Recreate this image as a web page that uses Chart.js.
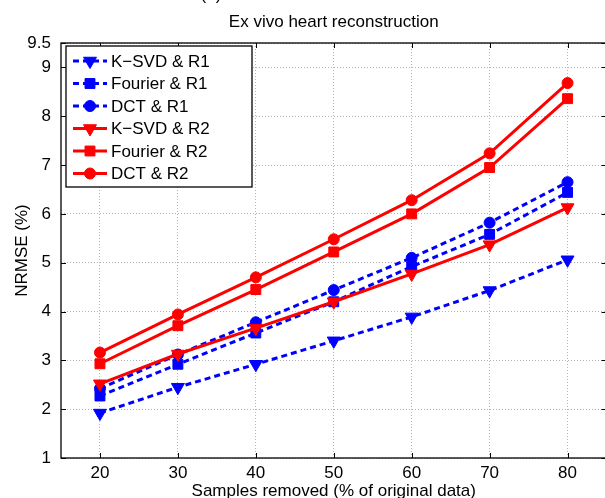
<!DOCTYPE html>
<html>
<head>
<meta charset="utf-8">
<title>Ex vivo heart reconstruction</title>
<script src="https://cdn.jsdelivr.net/npm/chart.js@4.4.1/dist/chart.umd.min.js"></script>
<style>
  html, body { margin: 0; padding: 0; background: #fff; overflow: hidden; }
  #wrap { width: 605px; height: 498px; overflow: hidden; }
</style>
</head>
<body>
<div id="wrap"><canvas id="heartChart" width="615" height="498"></canvas></div>
<script>
// values (NRMSE in %)
const samplesRemoved = [20, 30, 40, 50, 60, 70, 80];
const ksvdR1    = [1.92, 2.45, 2.92, 3.40, 3.89, 4.43, 5.06];
const fourierR1 = [2.27, 2.92, 3.56, 4.20, 4.92, 5.58, 6.44];
const dctR1     = [2.42, 3.12, 3.78, 4.44, 5.10, 5.82, 6.65];
const ksvdR2    = [2.52, 3.13, 3.66, 4.20, 4.77, 5.37, 6.13];
const fourierR2 = [2.93, 3.71, 4.45, 5.22, 6.00, 6.95, 8.36];
const dctR2     = [3.16, 3.94, 4.70, 5.48, 6.28, 7.24, 8.68];

const seriesNames = ["K\u2212SVD & R1", "Fourier & R1", "DCT & R1", "K\u2212SVD & R2", "Fourier & R2", "DCT & R2"];
const xTicks = [20, 30, 40, 50, 60, 70, 80];
const yTicks = [1, 2, 3, 4, 5, 6, 7, 8, 9, 9.5];

const FONT = "'Liberation Sans', Arial, Helvetica, sans-serif";
const BLUE = "#0000ff";
const RED = "#ff0000";

Chart.defaults.font.family = FONT;
Chart.defaults.color = "#000";

function serie(label, values, color, marker, dashed, i) {
  const markerSize = { triangle: 7.5, rect: 7, circle: 5.5 };
  return {
    label,
    data: samplesRemoved.map((x, k) => ({ x, y: values[k] })),
    borderColor: color,
    backgroundColor: color,
    borderWidth: 3,
    borderDash: dashed ? [6, 4] : [],
    pointStyle: marker,
    pointRotation: marker === "triangle" ? 180 : 0,
    pointRadius: markerSize[marker],
    pointBackgroundColor: color,
    pointBorderColor: color,
    pointBorderWidth: 1,
    tension: 0,
    order: 10 - i
  };
}

const datasets = [
  serie(seriesNames[0], ksvdR1, BLUE, "triangle", true, 0),
  serie(seriesNames[1], fourierR1, BLUE, "rect", true, 1),
  serie(seriesNames[2], dctR1, BLUE, "circle", true, 2),
  serie(seriesNames[3], ksvdR2, RED, "triangle", false, 3),
  serie(seriesNames[4], fourierR2, RED, "rect", false, 4),
  serie(seriesNames[5], dctR2, RED, "circle", false, 5)
];

// box round the axes, with inward ticks on all four sides
const marcoEjes = {
  id: "marcoEjes",
  afterDatasetsDraw(chart) {
    const { ctx, chartArea: a, scales: { x, y } } = chart;
    ctx.save();
    ctx.strokeStyle = "#000";
    ctx.lineWidth = 1.3;
    ctx.setLineDash([]);
    ctx.strokeRect(a.left, a.top, a.right - a.left, a.bottom - a.top);
    ctx.lineWidth = 1;
    ctx.beginPath();
    xTicks.forEach(v => {
      const px = Math.round(x.getPixelForValue(v)) + 0.5;
      ctx.moveTo(px, a.bottom); ctx.lineTo(px, a.bottom - 5);
      ctx.moveTo(px, a.top); ctx.lineTo(px, a.top + 5);
    });
    yTicks.forEach(v => {
      const py = Math.round(y.getPixelForValue(v)) + 0.5;
      ctx.moveTo(a.left, py); ctx.lineTo(a.left + 5, py);
      ctx.moveTo(a.right, py); ctx.lineTo(a.right - 5, py);
    });
    ctx.stroke();
    ctx.restore();
  }
};

// titles and MATLAB-style legend (line + marker)
const textosYLeyenda = {
  id: "textosYLeyenda",
  afterDraw(chart) {
    const { ctx, chartArea: a } = chart;
    const cx = (a.left + a.right) / 2;
    ctx.save();
    ctx.fillStyle = "#000";
    ctx.font = "17px " + FONT;
    ctx.textAlign = "center";
    ctx.textBaseline = "alphabetic";
    ctx.fillText("(a)", 211, 0);
    ctx.fillText("Ex vivo heart reconstruction", cx, 27);
    ctx.fillText("Samples removed (% of original data)", cx, 496);
    ctx.save();
    ctx.translate(27, (a.top + a.bottom) / 2);
    ctx.rotate(-Math.PI / 2);
    ctx.fillText("NRMSE (%)", 0, 0);
    ctx.restore();

    // legend
    const bx = 66, by = 46, bw = 186, bh = 141;
    ctx.fillStyle = "#fff";
    ctx.fillRect(bx, by, bw, bh);
    ctx.strokeStyle = "#000";
    ctx.lineWidth = 1.3;
    ctx.strokeRect(bx, by, bw, bh);
    ctx.textAlign = "left";
    ctx.textBaseline = "middle";
    chart.data.datasets.forEach((ds, i) => {
      const ry = 61 + i * 22.5;
      ctx.save();
      ctx.strokeStyle = ds.borderColor;
      ctx.lineWidth = ds.borderWidth;
      ctx.setLineDash(ds.borderDash);
      ctx.beginPath();
      ctx.moveTo(73, ry);
      ctx.lineTo(107, ry);
      ctx.stroke();
      ctx.setLineDash([]);
      ctx.fillStyle = ds.pointBackgroundColor;
      ctx.strokeStyle = ds.pointBorderColor;
      ctx.lineWidth = 1;
      Chart.helpers.drawPoint(ctx, {
        pointStyle: ds.pointStyle,
        radius: ds.pointRadius,
        rotation: ds.pointRotation,
        borderWidth: 1
      }, 90, ry);
      ctx.restore();
      ctx.fillStyle = "#000";
      ctx.fillText(ds.label, 111, ry + 1);
    });
    ctx.restore();
  }
};

new Chart(document.getElementById("heartChart"), {
  type: "line",
  data: { datasets },
  options: {
    responsive: false,
    animation: false,
    events: [],
    layout: { padding: { top: 43, right: 6, left: 0, bottom: 0 } },
    plugins: {
      legend: { display: false },
      tooltip: { enabled: false },
      title: { display: false }
    },
    scales: {
      x: {
        type: "linear",
        min: 15,
        max: 85,
        afterBuildTicks: s => { s.ticks = xTicks.map(v => ({ value: v })); },
        afterFit: s => { s.height = 40; },
        grid: { color: "#b4b4b4", lineWidth: 1, drawTicks: false },
        border: { display: false, dash: [1, 2] },
        ticks: { font: { size: 17 }, padding: 5, maxRotation: 0, autoSkip: false, color: "#000" }
      },
      y: {
        type: "linear",
        min: 1,
        max: 9.5,
        afterBuildTicks: s => { s.ticks = yTicks.map(v => ({ value: v })); },
        afterFit: s => { s.width = 61; },
        grid: { color: "#b4b4b4", lineWidth: 1, drawTicks: false },
        border: { display: false, dash: [1, 2] },
        ticks: { font: { size: 17 }, padding: 10, autoSkip: false, color: "#000", callback: v => String(v) }
      }
    }
  },
  plugins: [marcoEjes, textosYLeyenda]
});
</script>
</body>
</html>
